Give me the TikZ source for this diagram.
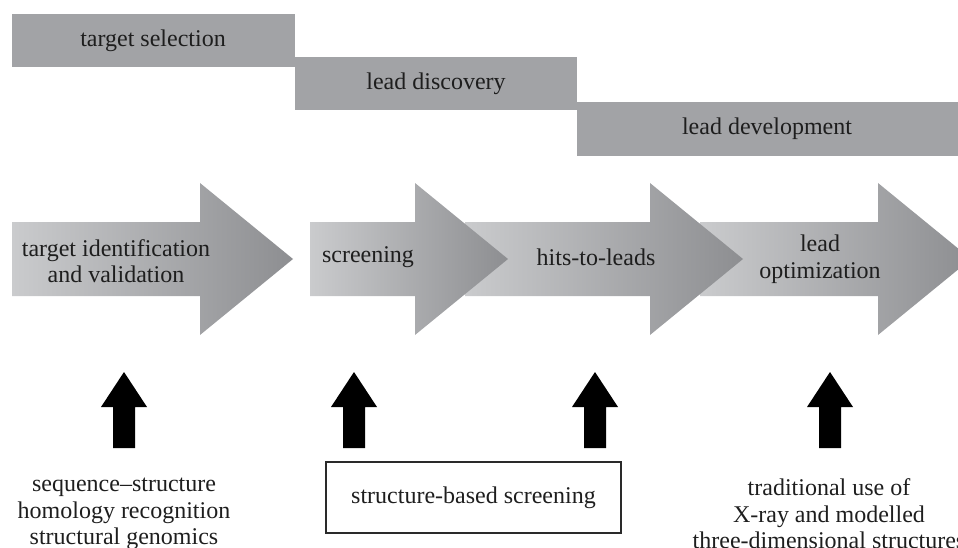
\documentclass[tikz,border=0pt]{standalone}
\usepackage{fontspec}
\setmainfont{Liberation Serif}
\definecolor{barfill}{HTML}{A2A3A6}
\definecolor{txt}{HTML}{1E1E1E}
\definecolor{shlight}{HTML}{CACBCD}
\definecolor{shdark}{HTML}{8D8E91}
\definecolor{boxline}{HTML}{2A2A2A}
\begin{document}
\begin{tikzpicture}[x=1pt,y=-1pt,
  lbl/.style={text=txt,font=\fontsize{24}{26.5}\selectfont,align=center,inner sep=0pt},
  bar/.style={fill=barfill,draw=none},
  stage/.style={left color=shlight,right color=shdark,draw=none},
  blk/.style={fill=black,draw=none},
  sbox/.style={draw=boxline,line width=1.2pt,fill=white}]
\useasboundingbox (0,0) rectangle (958,548);
% top phase bars
\path[bar] (12,14) rectangle (295,67);
\path[bar] (295,57) rectangle (577,110);
\path[bar] (577,102) rectangle (958,156);
\node[lbl] (ts) at (153,41) {target selection};
\node[lbl] (ld) at (436,84) {lead discovery};
\node[lbl] (lv) at (767,129) {lead development};
% stage arrows (drawn right to left so heads overlap next bodies)
\path[stage] (700,222) -- (878,222) -- (878,183) -- (971,259) -- (878,335) -- (878,296) -- (700,296) -- cycle;
\path[stage] (465,222) -- (650,222) -- (650,183) -- (743,259) -- (650,335) -- (650,296) -- (465,296) -- cycle;
\path[stage] (310,222) -- (415,222) -- (415,183) -- (508,259) -- (415,335) -- (415,296) -- (310,296) -- cycle;
\path[stage] (12,222) -- (200,222) -- (200,183) -- (293,259) -- (200,335) -- (200,296) -- (12,296) -- cycle;
\node[lbl] (s1) at (116,261) {target identification\\and validation};
\node[lbl] (s2) at (368,257) {screening};
\node[lbl] (s3) at (596,257) {hits-to-leads};
\node[lbl] (s4) at (820,259) {lead\\optimization};
% black block arrows
\foreach \cx/\nm in {124/a1,354/a2,595/a3,830/a4}{
  \path[blk] (\cx-11,448) -- (\cx-11,407) -- (\cx-23,407) -- (\cx,372) -- (\cx+23,407) -- (\cx+11,407) -- (\cx+11,448) -- cycle;
}
% bottom texts
\node[lbl] (b1) at (124,514) {sequence–structure\\homology recognition\\structural genomics};
\node[sbox,minimum width=295pt,minimum height=71pt,inner sep=0pt] (b2) at (473.5,497.5) {};
\node[lbl] (b2t) at (b2.center) {structure-based screening};
\node[lbl] (b3) at (829,514) {traditional use of\\X-ray and modelled\\three-dimensional structures};
\end{tikzpicture}
\end{document}
